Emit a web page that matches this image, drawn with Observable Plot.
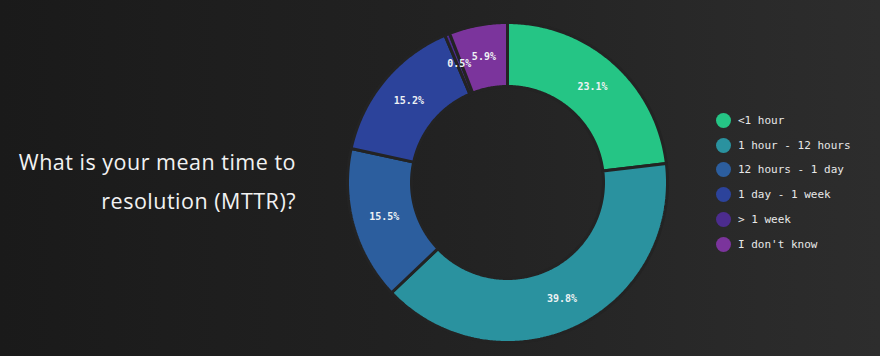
<!DOCTYPE html>
<html>
<head>
<meta charset="utf-8">
<script src="https://cdn.jsdelivr.net/npm/d3@7"></script>
<script src="https://cdn.jsdelivr.net/npm/@observablehq/plot@0.6"></script>
<style>
  html, body { margin: 0; padding: 0; }
  body { width: 880px; height: 356px; overflow: hidden; }
  #wrap {
    position: relative; width: 880px; height: 356px;
    background: linear-gradient(to right, #1a1a1a 0%, #222222 50%, #2d2d2d 100%);
  }
  #title {
    position: absolute; right: 584px; top: 142px; width: 360px;
    text-align: right; color: #f2f2f2;
    font-family: "Open Sans", "Inter", sans-serif; font-weight: 400;
    font-size: 21.5px; line-height: 39px; letter-spacing: 0.5px;
  }
  #chart { position: absolute; left: 0; top: 0; }
  #legend {
    position: absolute; left: 716px; top: 108px;
    font-family: "DejaVu Sans Mono", monospace; font-size: 11px; color: #e8e8e8;
  }
  .item { display: flex; align-items: center; height: 24.8px; }
  .sw { width: 15px; height: 15px; border-radius: 50%; margin-right: 7px; }
</style>
</head>
<body>
<div id="wrap">
  <div id="title">What is your mean time to<br>resolution (MTTR)?</div>
  <div id="chart"></div>
  <div id="legend"></div>
</div>
<script>
const categories = ["<1 hour", "1 hour - 12 hours", "12 hours - 1 day", "1 day - 1 week", "> 1 week", "I don't know"];
const values = [23.1, 39.8, 15.5, 15.2, 0.5, 5.9];
const labels = ["23.1%", "39.8%", "15.5%", "15.2%", "0.5%", "5.9%"];
const colors = ["#25c585", "#2a929f", "#2c5e9e", "#2c439b", "#4c2c8e", "#7b349c"];

const innerRatio = 0.6;
const data = categories.map((c, i) => ({category: c, value: values[i], label: labels[i]}));
const arcs = d3.pie().sort(null).value(d => d.value)(data);

// polygon points for each slice, in unit-circle coordinates
const pts = [];
arcs.forEach(a => {
  const n = Math.max(2, Math.ceil((a.endAngle - a.startAngle) / 0.01));
  for (let k = 0; k <= n; k++) {
    const t = a.startAngle + (a.endAngle - a.startAngle) * k / n;
    pts.push({category: a.data.category, x: Math.sin(t), y: Math.cos(t)});
  }
  for (let k = n; k >= 0; k--) {
    const t = a.startAngle + (a.endAngle - a.startAngle) * k / n;
    pts.push({category: a.data.category, x: innerRatio * Math.sin(t), y: innerRatio * Math.cos(t)});
  }
});
const mid = (1 + innerRatio) / 2;
const labelPts = arcs.map(a => {
  const t = (a.startAngle + a.endAngle) / 2;
  return {label: a.data.label, x: mid * Math.sin(t), y: mid * Math.cos(t)};
});

const plot = Plot.plot({
  width: 880, height: 356, margin: 0,
  style: {background: "transparent", overflow: "visible"},
  x: {domain: [-1, 1], range: [347, 667], axis: null},
  y: {domain: [-1, 1], range: [342, 22], axis: null},
  color: {domain: categories, range: colors},
  marks: [
    Plot.line(pts, {x: "x", y: "y", z: "category", fill: "category", stroke: "#232323", strokeWidth: 3, curve: "linear-closed", strokeLinejoin: "miter"}),
    Plot.text(labelPts, {x: "x", y: "y", text: "label", fill: "#eef2f4", fontSize: 10, fontWeight: "bold", fontFamily: "DejaVu Sans Mono, monospace"})
  ]
});
document.getElementById("chart").appendChild(plot);

const legend = document.getElementById("legend");
categories.forEach((c, i) => {
  const row = document.createElement("div");
  row.className = "item";
  const sw = document.createElement("div");
  sw.className = "sw";
  sw.style.background = colors[i];
  const tx = document.createElement("span");
  tx.textContent = c;
  row.appendChild(sw); row.appendChild(tx);
  legend.appendChild(row);
});
</script>
</body>
</html>
